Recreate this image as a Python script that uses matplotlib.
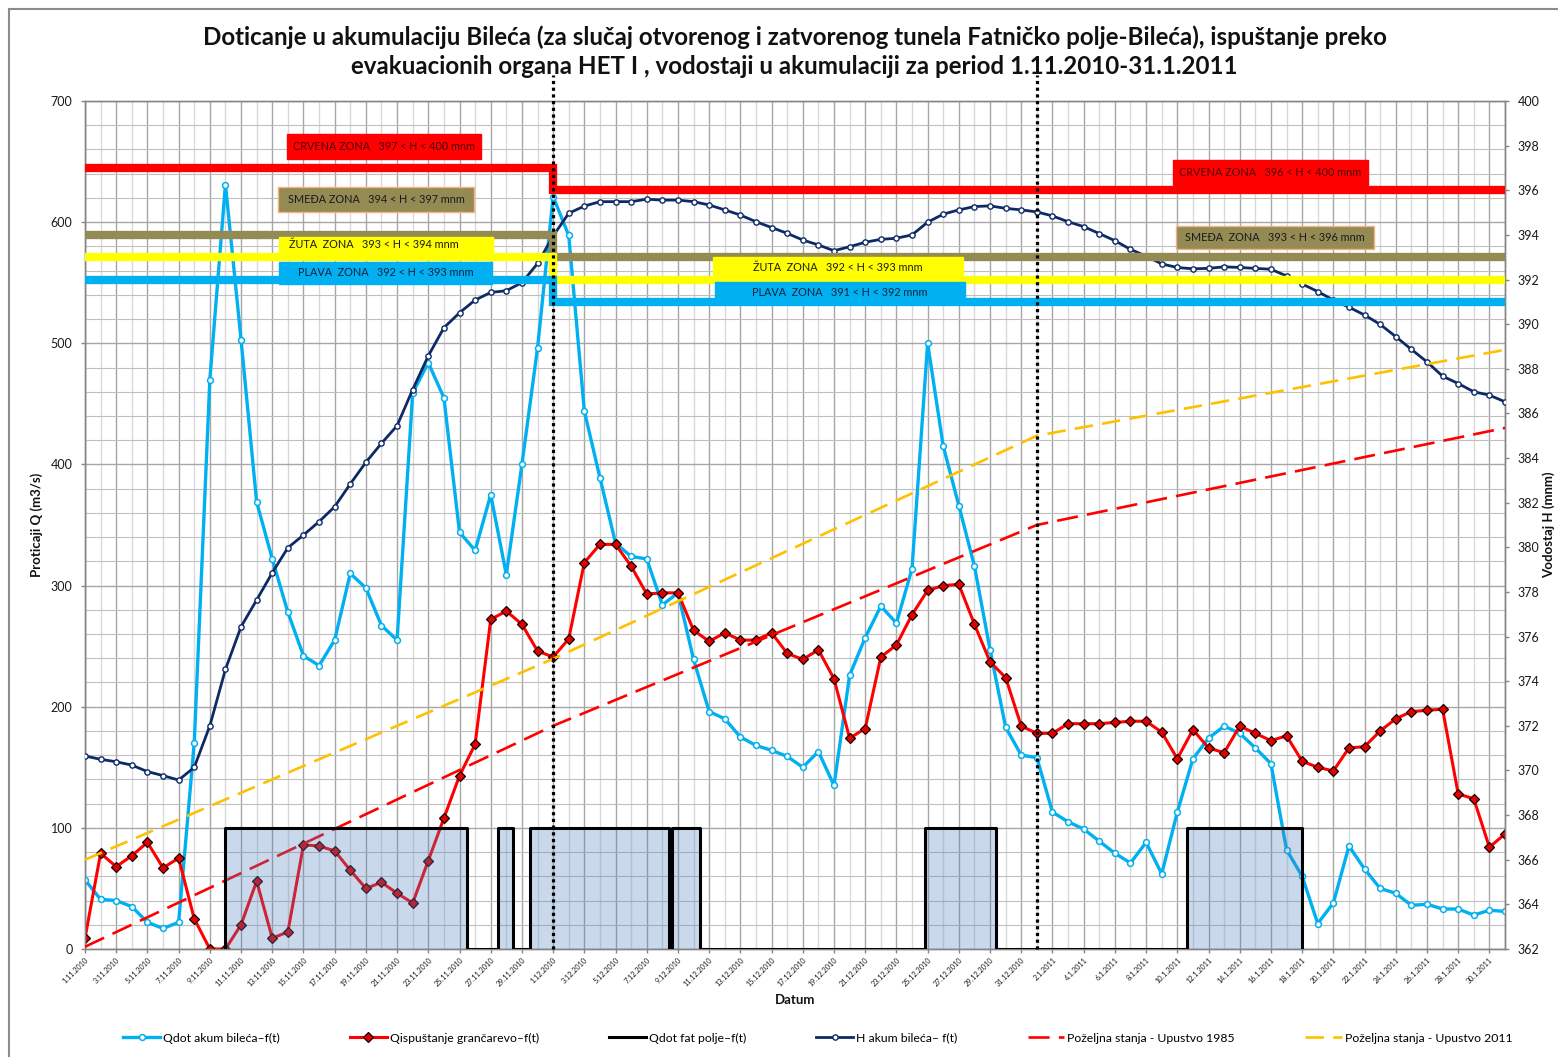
import numpy as np
import pandas as pd
import matplotlib
matplotlib.use('Agg')
import matplotlib.pyplot as plt
from matplotlib.patches import Rectangle

plt.rcParams['font.family'] = ['Lato', 'DejaVu Sans']

# ---------------- data ----------------
dates = pd.date_range('2010-11-01', '2011-01-31', freq='D')
days = np.arange(len(dates))
tick_days = days[::2]
tick_labels = [f"{d.day}.{d.month}.{d.year}" for d in dates[::2]]

q_bileca = [57, 41, 40, 35, 22, 17, 22, 170, 470, 631, 503, 369, 322, 278, 242, 234,
            255, 310, 298, 267, 255, 459, 484, 455, 344, 329, 375, 309, 400, 496, 621,
            589, 444, 389, 335, 324, 322, 284, 294, 239, 196, 190, 175, 168, 164, 159,
            150, 163, 135, 226, 257, 283, 269, 314, 500, 415, 366, 316, 247, 183, 160,
            158, 113, 105, 99, 89, 79, 71, 88, 62, 113, 157, 174, 184, 178, 166, 153,
            82, 60, 21, 38, 85, 66, 50, 46, 36, 37, 33, 33, 28, 32, 31]

q_grancarevo = [9, 79, 68, 77, 88, 67, 75, 25, 0, 0, 20, 56, 9, 14, 86, 85, 81, 65, 50,
                55, 46, 38, 73, 108, 143, 169, 272, 279, 268, 246, 241, 256, 319, 334,
                334, 316, 293, 294, 294, 263, 254, 261, 255, 255, 261, 244, 239, 247,
                223, 174, 182, 241, 251, 276, 296, 300, 301, 268, 237, 224, 184, 178,
                178, 186, 186, 186, 187, 188, 188, 179, 157, 181, 166, 162, 184, 178,
                172, 176, 155, 150, 147, 166, 167, 180, 190, 196, 197, 198, 128, 124,
                84, 95]

h_bileca = [370.65, 370.5, 370.39, 370.24, 369.95, 369.77, 369.57, 370.14, 372.0, 374.53,
            376.44, 377.64, 378.86, 379.98, 380.55, 381.15, 381.82, 382.84, 383.81, 384.66,
            385.45, 387.07, 388.58, 389.84, 390.51, 391.08, 391.42, 391.5, 391.86, 392.72,
            393.95, 394.97, 395.29, 395.49, 395.49, 395.49, 395.6, 395.56, 395.56, 395.49,
            395.34, 395.12, 394.89, 394.59, 394.33, 394.07, 393.77, 393.55, 393.29, 393.47,
            393.67, 393.8, 393.85, 394.0, 394.57, 394.93, 395.12, 395.27, 395.3, 395.19,
            395.12, 395.03, 394.85, 394.59, 394.37, 394.06, 393.74, 393.35, 393.05, 392.7,
            392.54, 392.48, 392.5, 392.57, 392.54, 392.5, 392.46, 392.16, 391.8, 391.46,
            391.08, 390.76, 390.41, 389.99, 389.44, 388.87, 388.31, 387.67, 387.34, 386.97,
            386.82, 386.52]

fat_days = [9, 9, 24.45, 24.45, 26.45, 26.45, 27.45, 27.45, 28.5, 28.5, 37.4, 37.4,
            37.6, 37.6, 39.4, 39.4, 53.85, 53.85, 58.4, 58.4, 70.6, 70.6, 78.0, 78.0]
fat_q = [0, 100, 100, 0, 0, 100, 100, 0, 0, 100, 100, 0,
         0, 100, 100, 0, 0, 100, 100, 0, 0, 100, 100, 0]

zone_days = [0, 30, 91]
zone_red = [397, 396, 396]
zone_brown = [394, 393, 393]
zone_yellow = [393, 392, 392]
zone_blue = [392, 391, 391]

poz_days = [0, 30, 61, 91]
poz_1985 = [362.1, 372.0, 381.0, 385.35]
poz_2011 = [366.0, 375.0, 385.0, 388.85]

split_days = [30, 61]

zone_labels = [
    # (text, x0, x1, h_bottom, h_top, facecolor, textcolor, align)
    ("CRVENA ZONA   397 < H < 400 mnm", 12.95, 25.38, 397.41, 398.52, '#FF0000', '#4d0000', 'center'),
    ("SMEĐA ZONA   394 < H < 397 mnm", 12.37, 24.93, 395.03, 396.15, '#948A54', '#1a1a1a', 'center'),
    ("ŽUTA  ZONA   393 < H < 394 mnm", 12.43, 26.15, 392.97, 393.91, '#FFFF00', '#1a1a1a', 'left'),
    ("PLAVA  ZONA   392 < H < 393 mnm", 12.43, 26.08, 391.80, 392.79, '#00B0F0', '#10243f', 'center'),
    ("CRVENA ZONA   396 < H < 400 mnm", 69.73, 82.22, 396.24, 397.37, '#FF0000', '#4d0000', 'center'),
    ("SMEĐA  ZONA   393 < H < 396 mnm", 69.92, 82.61, 393.38, 394.41, '#948A54', '#1a1a1a', 'center'),
    ("ŽUTA  ZONA   392 < H < 393 mnm", 40.25, 56.27, 392.11, 393.01, '#FFFF00', '#1a1a1a', 'center'),
    ("PLAVA  ZONA   391 < H < 392 mnm", 40.37, 56.40, 390.99, 391.89, '#00B0F0', '#10243f', 'center'),
]

# ---------------- figure ----------------
W, H = 1558, 1057
fig = plt.figure(figsize=(W / 100, H / 100), dpi=100)
L, R, T, B = 85, 1505, 101, 949
ax = fig.add_axes([L / W, 1 - B / H, (R - L) / W, (B - T) / H])
ax2 = ax.twinx()

ax.set_xlim(0, 91)
ax.set_ylim(0, 700)
ax2.set_ylim(362, 400)

ax.set_xticks(tick_days)
ax.set_xticks(days, minor=True)
ax.set_yticks(range(0, 701, 100))
ax.set_yticks(range(0, 701, 20), minor=True)
ax2.set_yticks(range(362, 401, 2))

ax.set_axisbelow(True)
ax.grid(which='major', axis='x', color='#A6A6A6', lw=1.0)
ax.grid(which='minor', axis='x', color='#D9D9D9', lw=1.0)
ax.grid(which='major', axis='y', color='#A6A6A6', lw=1.0)
ax.grid(which='minor', axis='y', color='#BFBFBF', lw=0.8)

ax.tick_params(which='minor', length=0)
ax.tick_params(which='major', direction='out', length=3, width=1, color='#868686',
               labelsize=9, labelcolor='#1a1a1a', pad=6)
ax2.tick_params(which='major', direction='out', length=3, width=1, color='#868686',
                labelsize=9, labelcolor='#1a1a1a', pad=6)
ax.tick_params(axis='x', pad=2)
ax.set_xticklabels(tick_labels, rotation=45, ha='right', va='top',
                   rotation_mode='anchor', fontsize=5.2, color='#1a1a1a')

for a in (ax, ax2):
    for s in a.spines.values():
        s.set_color('#868686')
        s.set_linewidth(1)
ax.spines['top'].set_color('#A6A6A6')

# Q series (left axis)
l_qb, = ax.plot(days, q_bileca, color='#00B0F0', lw=2.4, marker='o', ms=4.2,
                mfc='white', mec='#00B0F0', mew=1.1, zorder=3,
                label='Qdot akum bileća–f(t)')
l_qg, = ax.plot(days, q_grancarevo, color='#FF0000', lw=2.2, marker='D', ms=5,
                mfc='#E00000', mec='#1a0000', mew=0.9, zorder=4,
                label='Qispuštanje grančarevo–f(t)')

# H series and desired levels (right axis)
l_h, = ax2.plot(days, h_bileca, color='#0E2A66', lw=2.0, marker='o', ms=3.8,
                mfc='white', mec='#0E2A66', mew=1.0, zorder=3,
                label='H akum bileća– f(t)')
l_p85, = ax2.plot(poz_days, poz_1985, color='#FF0000', lw=1.9, dashes=(8, 3.5),
                  zorder=3, label='Poželjna stanja - Upustvo 1985')
l_p11, = ax2.plot(poz_days, poz_2011, color='#FFC000', lw=1.9, dashes=(7, 3.5),
                  zorder=3, label='Poželjna stanja - Upustvo 2011')

# Fatnicko polje inflow (semi-transparent fill over the lines)
ax2.fill_between(fat_days, fat_q, 0, transform=ax.transData, color='#4F81BD',
                 alpha=0.30, lw=0, zorder=4)
l_fat, = ax2.plot(fat_days, fat_q, transform=ax.transData, color='black', lw=2.2,
                  zorder=4.5, label='Qdot fat polje–f(t)')

# zone bars
for levels, col in ((zone_red, '#FF0000'), (zone_brown, '#948A54'),
                    (zone_yellow, '#FFFF00'), (zone_blue, '#00B0F0')):
    ax2.plot(zone_days, levels, drawstyle='steps-post', color=col, lw=6,
             solid_capstyle='butt', solid_joinstyle='miter', zorder=5)

# zone label boxes
for text, x0, x1, y0, y1, fc, tc, align in zone_labels:
    ec = '#F4B183' if fc == '#948A54' else fc
    ax2.add_patch(Rectangle((x0, y0), x1 - x0, y1 - y0, facecolor=fc, edgecolor=ec,
                            lw=1, zorder=6))
    if align == 'center':
        ax2.text((x0 + x1) / 2, (y0 + y1) / 2, text, ha='center', va='center',
                 fontsize=7.8, color=tc, zorder=7)
    else:
        ax2.text(x0 + 0.65, (y0 + y1) / 2 + 0.12, text, ha='left', va='center',
                 fontsize=7.8, color=tc, zorder=7)

# dotted date separators
for dd in split_days:
    ax2.axvline(dd, ymin=0, ymax=1.031, color='black', lw=2.3, dashes=(1, 1.1),
                clip_on=False, zorder=8)

# ---------------- texts ----------------
fig.text(794.5 / W, 1 - 37 / H,
         "Doticanje u akumulaciju Bileća (za slučaj otvorenog i zatvorenog tunela "
         "Fatničko polje-Bileća), ispuštanje preko",
         ha='center', va='center', fontsize=17.4, fontweight='bold', color='#111111')
fig.text(794.5 / W, 1 - 67 / H,
         "evakuacionih organa HET I , vodostaji u akumulaciji za period 1.11.2010-31.1.2011",
         ha='center', va='center', fontsize=17.4, fontweight='bold', color='#111111')

fig.text(37 / W, 1 - 525 / H, "Proticaji Q (m3/s)", rotation=90, ha='center',
         va='center', fontsize=9.5, fontweight='bold', color='#111111')
fig.text(1549 / W, 1 - 525 / H, "Vodostaj H (mnm)", rotation=90, ha='center',
         va='center', fontsize=9.5, fontweight='bold', color='#111111')
fig.text(795 / W, 1 - 1000 / H, "Datum", ha='center', va='center', fontsize=9.5,
         fontweight='bold', color='#111111')

# outer chart border (partially visible)
fig.add_artist(plt.Line2D([9 / W, 9 / W], [0, 1 - 9 / H], color='#8C8C8C', lw=1.5,
                          transform=fig.transFigure))
fig.add_artist(plt.Line2D([9 / W, 1], [1 - 9 / H, 1 - 9 / H], color='#8C8C8C', lw=1.5,
                          transform=fig.transFigure))

handles = [l_qb, l_qg, l_fat, l_h, l_p85, l_p11]
fig.legend(handles, [h.get_label() for h in handles], loc='center',
           bbox_to_anchor=(818 / W, 1 - 1038 / H), ncol=6, frameon=False,
           fontsize=8.8, columnspacing=5.75, handlelength=3.0, handletextpad=0.25)

fig.savefig('out.png', dpi=100)
